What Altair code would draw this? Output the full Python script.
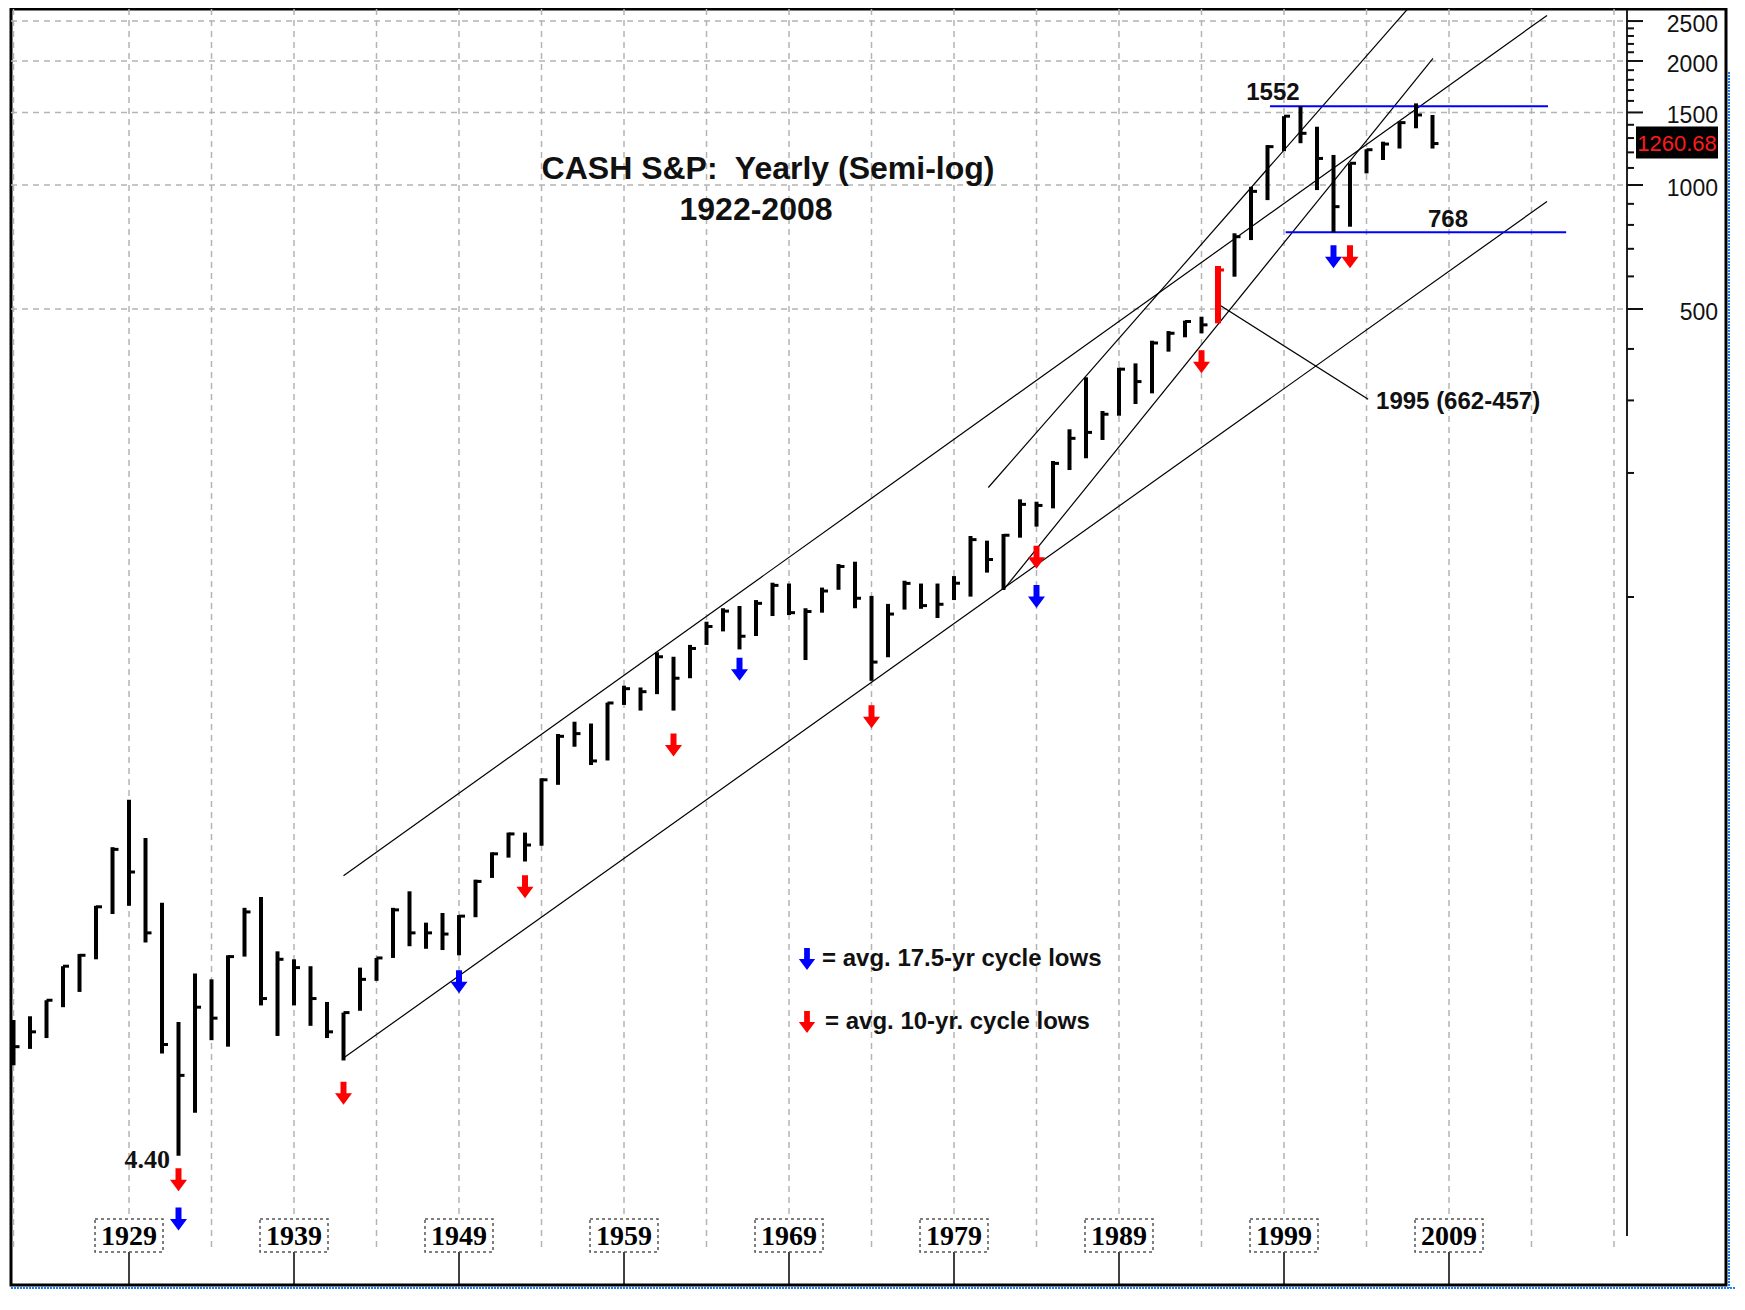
import altair as alt
import pandas as pd

# ---------------- data ----------------
years = list(range(1922, 2009))
high = [9.4, 9.6, 10.5, 12.7, 13.6, 17.8, 24.7, 32.2, 26.0, 18.1,
        9.3, 12.2, 11.8, 13.5, 17.6, 18.7, 13.8, 13.2, 12.7, 10.4,
        9.8, 12.6, 13.3, 17.6, 19.3, 16.2, 17.1, 16.9, 20.6, 24.0,
        26.8, 26.8, 36.3, 46.5, 49.8, 49.3, 55.4, 60.9, 60.3, 73.4,
        71.6, 76.5, 87.1, 93.9, 95.1, 98.3, 108.3, 107.8, 93.9, 105.4,
        120.2, 121.8, 100.6, 96.2, 109.5, 107.8, 107.8, 112.4, 140.6, 137.0,
        142.2, 172.6, 170.3, 213.8, 255.3, 341.4, 282.8, 360.1, 369.0, 418.8,
        442.0, 468.5, 479.0, 635.8, 763.4, 990.0, 1250, 1469, 1552, 1385,
        1183, 1129, 1221, 1274, 1425, 1578, 1479]
low = [7.3, 8.0, 8.5, 10.1, 11.0, 13.2, 17.0, 17.8, 14.5, 7.8,
       4.4, 5.6, 8.4, 8.1, 13.4, 10.2, 8.6, 10.2, 9.1, 8.5,
       7.5, 9.9, 11.7, 13.3, 14.2, 14.0, 13.9, 13.5, 16.7, 20.8,
       23.3, 22.8, 24.9, 35.0, 43.3, 39.1, 40.1, 54.7, 53.0, 58.1,
       53.0, 63.5, 76.5, 82.5, 74.6, 80.4, 89.9, 90.4, 70.3, 91.6,
       104.1, 93.9, 62.6, 71.4, 93.2, 93.6, 88.9, 98.3, 100.2, 114.6,
       104.0, 139.3, 148.2, 164.1, 203.3, 217.1, 240.5, 275.4, 294.0, 312.1,
       394.0, 426.9, 436.5, 461.6, 599.0, 735.0, 919, 1208, 1263, 972,
       768, 792, 1067, 1150, 1226, 1373, 1226]
close = [8.1, 8.8, 10.5, 12.7, 13.5, 17.7, 24.4, 21.5, 15.3, 8.2,
         6.9, 10.1, 9.5, 13.4, 17.2, 10.6, 13.2, 12.6, 10.6, 8.8,
         9.8, 11.8, 13.3, 17.4, 15.3, 15.3, 15.2, 16.8, 20.4, 23.8,
         26.6, 25.0, 36.0, 45.9, 46.6, 40.0, 55.3, 59.9, 58.9, 71.6,
         63.5, 75.0, 84.8, 92.4, 80.3, 96.5, 106.7, 91.6, 92.2, 103.4,
         118.6, 99.3, 69.5, 90.9, 107.9, 95.3, 96.0, 108.0, 137.8, 123.3,
         141.2, 167.8, 166.8, 211.0, 242.7, 250.9, 277.7, 357.2, 333.3, 413.5,
         436.6, 466.3, 457.6, 621.9, 749.0, 965.0, 1239, 1469, 1335, 1160,
         886, 1129, 1218, 1257, 1417, 1479, 1260.68]
highlight_year = 1995
last_close_text = "1260.68"
last_close = 1260.68

# trend lines (year, value) endpoints
tl_x1 = [1942.0, 1942.0, 1981.08, 1981.99]
tl_v1 = [21.05, 7.6, 184.4, 104.0]
tl_x2 = [2014.94, 2014.94, 2006.5, 2008.03]
tl_v2 = [2580.0, 912.0, 2676.0, 2030.0]

# horizontal blue levels
lvl_v = [1552, 768]
lvl_x1 = [1998.15, 1999.1]
lvl_x2 = [2015.0, 2016.1]

# leader line for the 1995 note
lead_x1, lead_v1, lead_x2, lead_v2 = [1995.0], [514.0], [2004.1], [302.0]

# cycle-low arrows
arrow_year = [1932, 1932, 1942, 1949, 1953, 1962, 1966, 1974, 1984, 1984, 1994, 2002, 2003]
arrow_val = [3.85, 3.09, 6.24, 11.65, 19.8, 43.7, 66.8, 51.2, 124.8, 100.2, 372.6, 670.0, 670.0]
arrow_kind = ["10", "17.5", "10", "17.5", "10", "10", "17.5", "10", "10", "17.5", "10", "17.5", "10"]

# grid / axis values
vgrid_years = [1922, 1929, 1934, 1939, 1944, 1949, 1954, 1959, 1964, 1969,
               1974, 1979, 1984, 1989, 1994, 1999, 2004, 2009, 2014, 2019]
hgrid_vals = [500, 1000, 1500, 2000, 2500]
major_ticks = [500, 1000, 1500, 2000, 2500]
minor_ticks = [100, 200, 300, 400, 600, 700, 800, 900, 1100, 1200, 1300, 1400,
               1600, 1700, 1800, 1900, 2100, 2200, 2300, 2400]
x_labels = [1929, 1939, 1949, 1959, 1969, 1979, 1989, 1999, 2009]

title1 = "CASH S&P:\u00a0 Yearly (Semi-log)"
title2 = "1922-2008"
legend_texts = ["= avg. 17.5-yr cycle lows", "= avg. 10-yr. cycle lows"]

# annotations
ann_1552 = ("1552", 1998.33, 1672.0)
ann_768 = ("768", 2008.94, 822.0)
ann_440 = ("4.40", 1931.48, 4.30)
ann_1995 = ("1995 (662-457)", 2004.58, 297.4)

# ---------------- chart ----------------
W, H = 1715, 1276
XS = alt.Scale(domain=[1921.848, 2025.788], nice=False, zero=False)
YS = alt.Scale(type="log", domain=[2.138, 2674.1], nice=False)


def ex(f="year"):
    return alt.X(f"{f}:Q", scale=XS, axis=None)


def ey(f):
    return alt.Y(f"{f}:Q", scale=YS, axis=None)


SANS = "Liberation Sans"
SERIF = "Liberation Serif"
ARROW = "M-0.26,-1L0.26,-1L0.26,0L0.74,0L0,1L-0.74,0L-0.26,0Z"

bars = pd.DataFrame({"year": years, "high": high, "low": low, "close": close})
is_hi = alt.datum.year == highlight_year
bar_color = alt.condition(is_hi, alt.value("#ff0000"), alt.value("#000000"))

vgrid = alt.Chart(pd.DataFrame({"year": vgrid_years})).mark_rule(
    stroke="#b4b4b4", strokeWidth=1.5, strokeDash=[6, 5]
).encode(x=ex(), y=alt.value(0), y2=alt.value(1241))

hgrid = alt.Chart(pd.DataFrame({"v": hgrid_vals})).mark_rule(
    stroke="#b4b4b4", strokeWidth=1.5, strokeDash=[6, 5]
).encode(y=ey("v"), x=alt.value(0), x2=alt.value(1614))

trend = alt.Chart(pd.DataFrame({"x1": tl_x1, "v1": tl_v1, "x2": tl_x2, "v2": tl_v2})).mark_rule(
    stroke="#000000", strokeWidth=1.2, clip=True
).encode(x=ex("x1"), x2=alt.X2("x2"), y=ey("v1"), y2=alt.Y2("v2"))

levels = alt.Chart(pd.DataFrame({"x1": lvl_x1, "x2": lvl_x2, "v": lvl_v})).mark_rule(
    stroke="#0000ff", strokeWidth=2
).encode(x=ex("x1"), x2=alt.X2("x2"), y=ey("v"))

leader = alt.Chart(pd.DataFrame({"x1": lead_x1, "v1": lead_v1, "x2": lead_x2, "v2": lead_v2})).mark_rule(
    stroke="#000000", strokeWidth=1.3
).encode(x=ex("x1"), x2=alt.X2("x2"), y=ey("v1"), y2=alt.Y2("v2"))

hl = alt.Chart(bars).mark_rule(strokeCap="butt").encode(
    x=ex(), y=ey("low"), y2=alt.Y2("high"), color=bar_color,
    strokeWidth=alt.condition(is_hi, alt.value(6), alt.value(4)),
)
cl = alt.Chart(bars).mark_rule(strokeWidth=3, x2Offset=6, strokeCap="butt").encode(
    x=ex(), x2=alt.X2("year"), y=ey("close"), color=bar_color
)

arrow_color = alt.Color("kind:N", scale=alt.Scale(domain=["17.5", "10"], range=["#0000ff", "#ff0000"]), legend=None)
arrows = alt.Chart(pd.DataFrame({"year": arrow_year, "v": arrow_val, "kind": arrow_kind})).mark_point(
    shape=ARROW, filled=True, size=529, opacity=1, strokeWidth=0
).encode(x=ex(), y=ey("v"), color=arrow_color)

leg_arrows = alt.Chart(pd.DataFrame({"kind": ["17.5", "10"], "py": [950, 1013]})).mark_point(
    shape=ARROW, filled=True, size=484, opacity=1, strokeWidth=0
).encode(x=alt.value(796), y=alt.Y("py:Q", scale=None), color=arrow_color)

leg_text1 = alt.Chart(pd.DataFrame({"t": [legend_texts[0]]})).mark_text(
    font=SANS, fontSize=24, fontWeight="bold", align="left", baseline="middle", color="#111"
).encode(text="t:N", x=alt.value(811), y=alt.value(950))
leg_text2 = alt.Chart(pd.DataFrame({"t": [legend_texts[1]]})).mark_text(
    font=SANS, fontSize=24, fontWeight="bold", align="left", baseline="middle", color="#111"
).encode(text="t:N", x=alt.value(814), y=alt.value(1013))

t1 = alt.Chart(pd.DataFrame({"t": [title1]})).mark_text(
    font=SANS, fontSize=32, fontWeight="bold", align="center", baseline="middle", color="#111"
).encode(text="t:N", x=alt.value(757), y=alt.value(160))
t2 = alt.Chart(pd.DataFrame({"t": [title2]})).mark_text(
    font=SANS, fontSize=32, fontWeight="bold", align="center", baseline="middle", color="#111"
).encode(text="t:N", x=alt.value(745), y=alt.value(201))


def ann(item, font, size, align):
    t, xv, vv = item
    return alt.Chart(pd.DataFrame({"t": [t], "x": [xv], "v": [vv]})).mark_text(
        font=font, fontSize=size, fontWeight="bold", align=align, baseline="middle", color="#111"
    ).encode(text="t:N", x=ex("x"), y=ey("v"))


a1 = ann(ann_1552, SANS, 24, "center")
a2 = ann(ann_768, SANS, 24, "center")
a3 = ann(ann_440, SERIF, 26, "right")
a4 = ann(ann_1995, SANS, 24, "left")

# right price axis
axis_line = alt.Chart(pd.DataFrame({"a": [0]})).mark_rule(stroke="#222", strokeWidth=2).encode(
    x=alt.value(1616), y=alt.value(1), y2=alt.value(1227)
)
maj = alt.Chart(pd.DataFrame({"v": major_ticks})).mark_rule(stroke="#111", strokeWidth=2).encode(
    y=ey("v"), x=alt.value(1616), x2=alt.value(1632)
)
mnr = alt.Chart(pd.DataFrame({"v": minor_ticks})).mark_rule(stroke="#111", strokeWidth=2).encode(
    y=ey("v"), x=alt.value(1616), x2=alt.value(1623)
)
ax_lab = alt.Chart(pd.DataFrame({"v": major_ticks})).mark_text(
    font=SANS, fontSize=23, align="right", baseline="middle", dy=4, color="#111"
).encode(y=ey("v"), x=alt.value(1707), text=alt.Text("v:Q", format="d"))

price_box = alt.Chart(pd.DataFrame({"v": [last_close]})).mark_rect(
    color="#000000", yOffset=-17, y2Offset=15
).encode(y=ey("v"), y2=alt.Y2("v"), x=alt.value(1625), x2=alt.value(1707))
price_txt = alt.Chart(pd.DataFrame({"v": [last_close], "t": [last_close_text]})).mark_text(
    font=SANS, fontSize=22, align="center", baseline="middle", color="#ff1a1a"
).encode(y=ey("v"), x=alt.value(1666), text="t:N")

# bottom date labels
xl = pd.DataFrame({"year": x_labels, "t": [str(y) for y in x_labels]})
xl_tick = alt.Chart(xl).mark_rule(stroke="#000", strokeWidth=1.5).encode(
    x=ex(), y=alt.value(1243), y2=alt.value(1276)
)
xl_box = alt.Chart(xl).mark_rect(
    fill="#ffffff", stroke="#555555", strokeWidth=1.5, strokeDash=[3, 3], xOffset=-34, x2Offset=34
).encode(x=ex(), x2=alt.X2("year"), y=alt.value(1210), y2=alt.value(1243))
xl_txt = alt.Chart(xl).mark_text(
    font=SERIF, fontSize=28, fontWeight="bold", align="center", baseline="middle", color="#000"
).encode(x=ex(), y=alt.value(1228), text="t:N")

# screenshot selection dotted edges
edge_b = alt.Chart(pd.DataFrame({"a": [0]})).mark_rule(stroke="#1a7cff", strokeWidth=2, strokeDash=[2, 1]).encode(
    x=alt.value(0), x2=alt.value(1725), y=alt.value(1279)
)
edge_r = alt.Chart(pd.DataFrame({"a": [0]})).mark_rule(stroke="#1a7cff", strokeWidth=2, strokeDash=[2, 1]).encode(
    x=alt.value(1718), y=alt.value(63), y2=alt.value(1279)
)

chart = alt.layer(
    vgrid, hgrid, xl_tick, xl_box, xl_txt,
    trend, levels, leader,
    hl, cl, arrows,
    leg_arrows, leg_text1, leg_text2, t1, t2,
    a1, a2, a3, a4,
    axis_line, maj, mnr, ax_lab, price_box, price_txt,
    edge_b, edge_r,
).properties(
    width=W, height=H,
    autosize=alt.AutoSizeParams(type="none"),
    padding={"left": 3, "top": 1, "right": 10, "bottom": 12},
    background="#ffffff",
).configure_view(stroke="#000000", strokeWidth=3)

chart.save("out.html", embed_options={"renderer": "svg", "actions": False})
